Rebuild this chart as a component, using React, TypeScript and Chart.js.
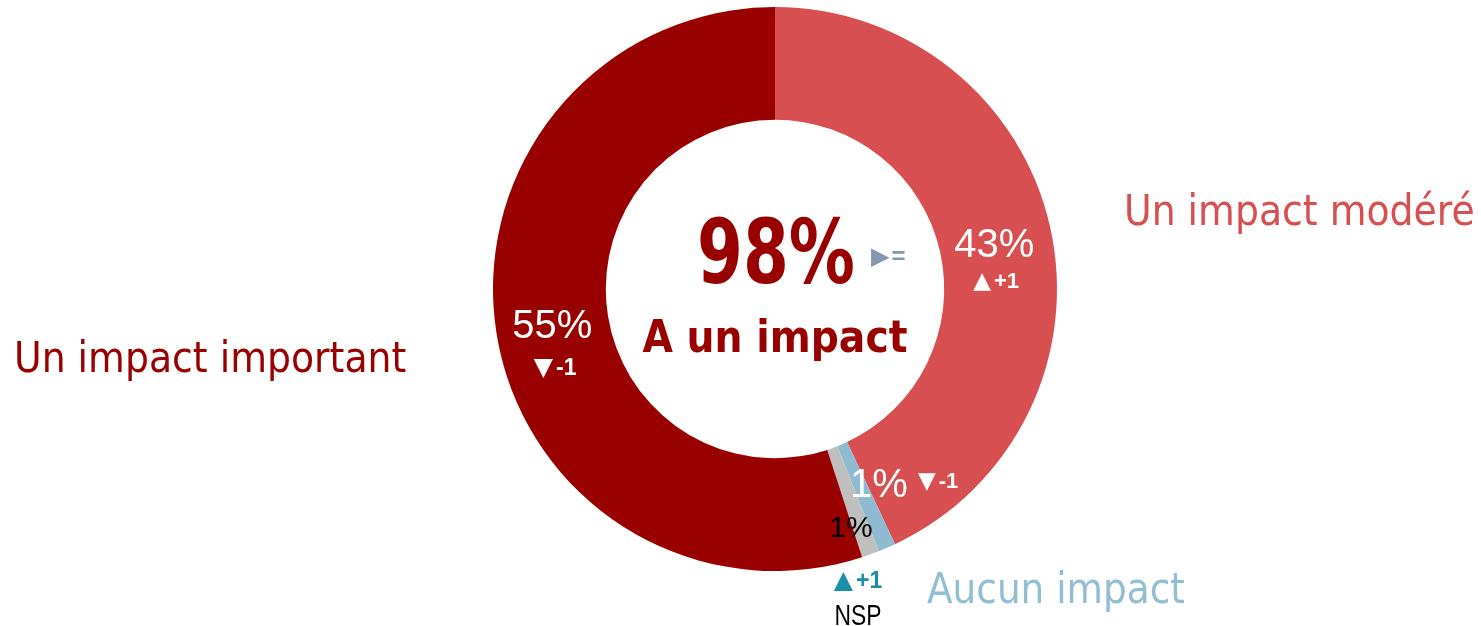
import React, { useEffect, useRef } from "react";
import { Chart, registerables } from "chart.js";

Chart.register(...registerables);

const categories = ["Un impact modéré", "Aucun impact", "NSP", "Un impact important"];
const values = [43, 1, 1, 55];
const percentLabels = ["43%", "1%", "1%", "55%"];
const deltas = ["▲+1", "▼-1", "▲+1", "▼-1"];
const colors = ["#D84F51", "#8FBBD2", "#BFBFBF", "#990000"];
const totalLabel = "98%";
const totalCaption = "A un impact";
const totalDelta = "▶=";

const CAT_FONT = "'DejaVu Sans Condensed', 'DejaVu Sans', sans-serif";
const NUM_FONT = "'Liberation Sans', Arial, sans-serif";
const SYM_FONT = "'DejaVu Sans', sans-serif";

function txt(
  ctx: CanvasRenderingContext2D,
  s: string,
  x: number,
  y: number,
  font: string,
  color: string,
  align: CanvasTextAlign = "center",
  maxWidth?: number
) {
  ctx.save();
  ctx.font = font;
  ctx.fillStyle = color;
  ctx.textAlign = align;
  ctx.textBaseline = "alphabetic";
  if (maxWidth) ctx.fillText(s, x, y, maxWidth);
  else ctx.fillText(s, x, y);
  ctx.restore();
}

// delta marker: first char is a triangle symbol, the rest is the number
function delta(
  ctx: CanvasRenderingContext2D,
  s: string,
  x: number,
  y: number,
  symSize: number,
  numSize: number,
  color: string,
  align: "left" | "center" = "center",
  gap = 3
) {
  const sym = s.slice(0, 1);
  const rest = s.slice(1);
  ctx.save();
  ctx.font = `${symSize}px ${SYM_FONT}`;
  const ws = ctx.measureText(sym).width;
  ctx.font = `bold ${numSize}px ${NUM_FONT}`;
  const wn = ctx.measureText(rest).width;
  ctx.restore();
  const total = ws + gap + wn;
  const left = align === "center" ? x - total / 2 : x;
  txt(ctx, sym, left, y, `${symSize}px ${SYM_FONT}`, color, "left");
  txt(ctx, rest, left + ws + gap, y, `bold ${numSize}px ${NUM_FONT}`, color, "left");
}

const labelsPlugin = {
  id: "donutLabels",
  afterDraw(chart: any) {
    const ctx: CanvasRenderingContext2D = chart.ctx;
    const meta = chart.getDatasetMeta(0);
    const arc0 = meta.data[0];
    const cx = arc0.x;
    const cy = arc0.y;

    // centre
    txt(ctx, totalLabel, cx + 1, cy - 6, `bold 89px ${CAT_FONT}`, "#990000", "center", 158);
    txt(ctx, totalCaption, cx, cy + 63, `bold 45px ${CAT_FONT}`, "#990000", "center", 265);
    delta(ctx, totalDelta, cx + 96, cy - 25, 24, 24, "#8497B0", "left", 2);

    // category labels
    txt(ctx, categories[0], cx + 349, cy - 64, `42px ${CAT_FONT}`, colors[0], "left", 351);
    txt(ctx, categories[3], cx - 761, cy + 83, `42px ${CAT_FONT}`, colors[3], "left", 396);
    txt(ctx, categories[1], cx + 152, cy + 314, `42px ${CAT_FONT}`, "#92BED4", "left", 258);

    // 43% segment
    const p0 = meta.data[0].tooltipPosition();
    txt(ctx, percentLabels[0], p0.x - 1, p0.y + 17, `40px ${NUM_FONT}`, "#FFFFFF");
    delta(ctx, deltas[0], p0.x + 1, p0.y + 48, 23, 22, "#FFFFFF");

    // 55% segment
    const p3 = meta.data[3].tooltipPosition();
    txt(ctx, percentLabels[3], p3.x, p3.y + 14, `40px ${NUM_FONT}`, "#FFFFFF");
    delta(ctx, deltas[3], p3.x + 3, p3.y + 51, 25, 23, "#FFFFFF");

    // Aucun impact (1%)
    txt(ctx, percentLabels[1], cx + 75, cy + 208, `40px ${NUM_FONT}`, "#FFFFFF", "left");
    delta(ctx, deltas[1], cx + 143, cy + 199, 23, 22, "#FFFFFF", "left");

    // NSP (1%)
    txt(ctx, percentLabels[2], cx + 76, cy + 248, `30px ${NUM_FONT}`, "#000000");
    delta(ctx, deltas[2], cx + 83, cy + 299, 25, 23, "#1A8FAA");
    txt(ctx, categories[2], cx + 83, cy + 336, `30px ${NUM_FONT}`, "#000000", "center", 47);
  },
};

export default function App() {
  const ref = useRef<HTMLCanvasElement | null>(null);

  useEffect(() => {
    if (!ref.current) return;
    const chart = new Chart(ref.current, {
      type: "doughnut",
      data: {
        labels: categories,
        datasets: [
          {
            data: values,
            backgroundColor: colors,
            borderWidth: 0,
          },
        ],
      },
      options: {
        animation: false,
        responsive: false,
        cutout: "60%",
        rotation: 0,
        layout: { padding: { top: 7, bottom: 55, left: 400, right: 331 } },
        plugins: {
          legend: { display: false },
          tooltip: { enabled: false },
        },
      },
      plugins: [labelsPlugin],
    });
    return () => chart.destroy();
  }, []);

  return (
    <div style={{ position: "absolute", left: 0, top: 0, width: 1481, height: 626, background: "#fff" }}>
      <canvas ref={ref} width={1481} height={626} style={{ width: 1481, height: 626, display: "block" }} />
    </div>
  );
}
